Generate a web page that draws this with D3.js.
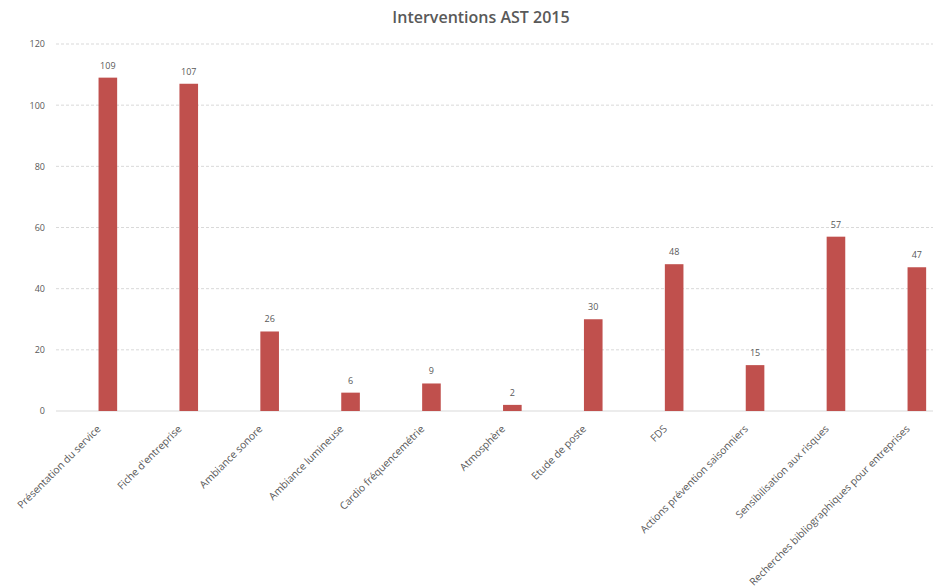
<!DOCTYPE html>
<html><head><meta charset="utf-8">
<script src="https://cdn.jsdelivr.net/npm/d3@7"></script>
<style>body{margin:0;background:#fff;} text{font-family:"Open Sans","Liberation Sans",sans-serif;}</style>
</head><body>
<svg id="c" width="933" height="587"></svg>
<script>
const title = "Interventions AST 2015";
const categories = ["Présentation du service","Fiche d'entreprise","Ambiance sonore","Ambiance lumineuse","Cardio fréquencemétrie","Atmosphère","Etude de poste","FDS","Actions prévention saisonniers","Sensibilisation aux risques","Recherches bibliographiques pour entreprises"];
const values = [109,107,26,6,9,2,30,48,15,57,47];
const yTicks = [0,20,40,60,80,100,120];

const svg = d3.select("#c");
const gridLeft = 56, gridRight = 960;
const x = d3.scaleBand().domain(categories).range([67.4, 67.4 + 11*80.9]).paddingInner(0.77).paddingOuter(0.385);
const y = d3.scaleLinear().domain([0,120]).range([411, 44]);

svg.append("text").attr("x", 481).attr("y", 23).attr("text-anchor","middle")
  .attr("font-size", 16).attr("font-weight", 600).attr("fill", "#595959").text(title);

const grid = svg.append("g");
grid.selectAll("line").data(yTicks).join("line")
  .attr("x1", gridLeft).attr("x2", gridRight)
  .attr("y1", d => y(d)).attr("y2", d => y(d))
  .attr("stroke", "#d9d9d9").attr("stroke-width", 1)
  .attr("stroke-dasharray", d => d === 0 ? null : "3,2");

const yAxis = svg.append("g").attr("transform", `translate(${gridLeft},0)`)
  .call(d3.axisLeft(y).tickValues(yTicks).tickSize(0).tickPadding(11));
yAxis.select(".domain").remove();
yAxis.selectAll("text").attr("font-size", 9).attr("fill", "#595959")
  .style("font-family", '"Open Sans","Liberation Sans",sans-serif');

svg.append("g").selectAll("rect").data(values).join("rect")
  .attr("x", (d,i) => x(categories[i])).attr("width", x.bandwidth())
  .attr("y", d => y(d)).attr("height", d => y(0) - y(d))
  .attr("fill", "#c0504d");

svg.append("g").selectAll("text").data(values).join("text")
  .attr("x", (d,i) => x(categories[i]) + x.bandwidth()/2)
  .attr("y", d => y(d) - 9)
  .attr("text-anchor", "middle").attr("font-size", 9).attr("fill", "#595959")
  .text(d => d);

const xAxis = svg.append("g").attr("transform", `translate(0,${y(0)})`)
  .call(d3.axisBottom(x).tickSize(0).tickPadding(0));
xAxis.select(".domain").remove();
xAxis.selectAll("text")
  .attr("font-size", 10.3).attr("fill", "#595959")
  .style("font-family", '"Open Sans","Liberation Sans",sans-serif')
  .attr("text-anchor", "end")
  .attr("dy", "0.35em")
  .attr("transform", "translate(-9,16) rotate(-45)")
  .attr("y", 0).attr("x", 0);
</script>
</body></html>
